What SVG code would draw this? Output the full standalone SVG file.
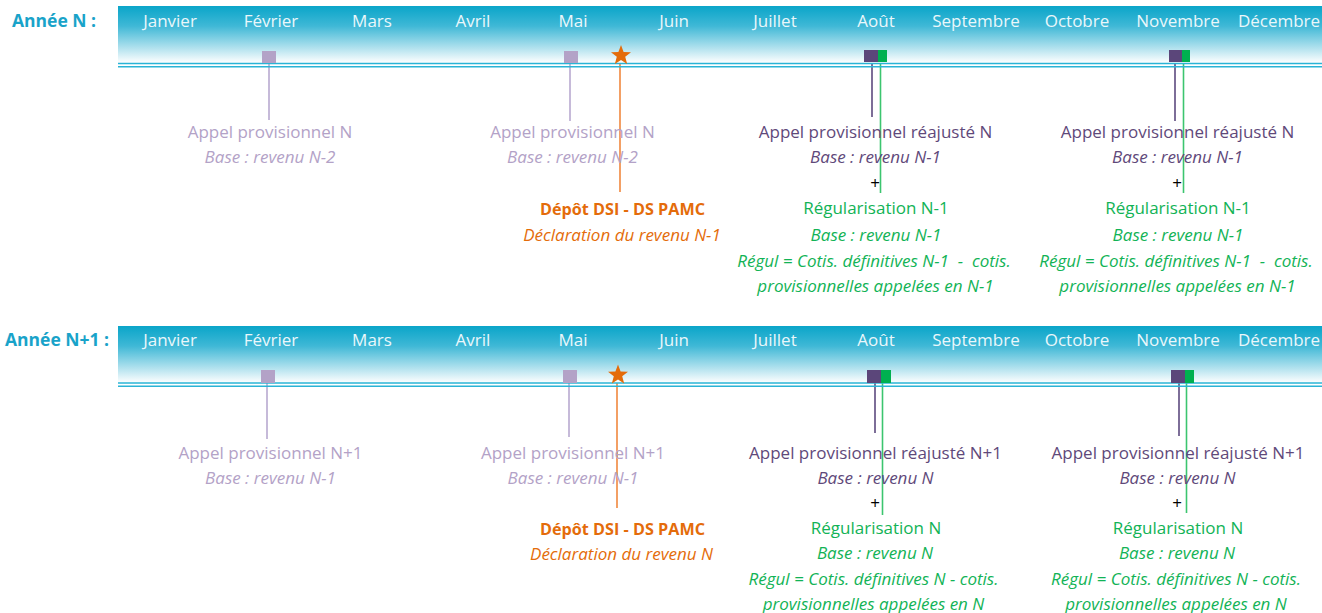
<svg xmlns="http://www.w3.org/2000/svg" width="1322" height="613" viewBox="0 0 1322 613">
<style>
text{font-family:"Open Sans","Liberation Sans",sans-serif;font-size:17px;text-anchor:middle}
.yr{font-weight:bold;font-size:17.5px;fill:#19a3c9;text-anchor:start}
.mo{fill:#eaf7fb}
.lp{fill:#b3a2c7}
.dp{fill:#5f497a}
.gr{fill:#12b356}
.or{fill:#e46c0a}
.it{font-style:italic}
.bd{font-weight:bold;font-size:16.2px}
.pl{fill:#000;font-size:17px}
.dl{stroke:#2ab4d6;stroke-width:1.6}
.c-lp{stroke:#c6bad9;stroke-width:2}
.c-dp{stroke:#7d6e98;stroke-width:2}
.c-gr{stroke:#3cc56f;stroke-width:1.6}
.c-or{stroke:#f0883e;stroke-width:1.6}
.sq-lp{fill:#b3a2c7}
.sq-dp{fill:#5b467a}
.sq-gr{fill:#00b050}
</style>
<defs>
<linearGradient id="bar" x1="0" y1="0" x2="0" y2="1">
<stop offset="0" stop-color="#0aa5c9"/>
<stop offset="0.35" stop-color="#3fb8d6"/>
<stop offset="0.75" stop-color="#b5e3ef"/>
<stop offset="1" stop-color="#ffffff"/>
</linearGradient>
<path id="star" d="M0,-10.5 L2.6,-3.6 L10,-3.25 L4.2,1.37 L6.17,8.5 L0,4.43 L-6.17,8.5 L-4.2,1.37 L-10,-3.25 L-2.6,-3.6 Z" fill="#e46c0a"/>
</defs>
<rect width="1322" height="613" fill="#fff"/>

<g id="connectors">
<line class="c-lp" x1="269" y1="63" x2="269" y2="120"/>
<line class="c-lp" x1="570" y1="63" x2="570" y2="121"/>
<line class="c-or" x1="620" y1="60" x2="620" y2="192"/>
<line class="c-dp" x1="872" y1="62" x2="872" y2="117"/>
<line class="c-gr" x1="880.5" y1="62" x2="880.5" y2="193"/>
<line class="c-dp" x1="1175" y1="62" x2="1175" y2="121"/>
<line class="c-gr" x1="1183.5" y1="62" x2="1183.5" y2="193"/>

<line class="c-lp" x1="267" y1="383" x2="267" y2="439"/>
<line class="c-lp" x1="569" y1="383" x2="569" y2="437"/>
<line class="c-or" x1="617" y1="379" x2="617" y2="508"/>
<line class="c-dp" x1="875" y1="383" x2="875" y2="433"/>
<line class="c-gr" x1="882.5" y1="383" x2="882.5" y2="515"/>
<line class="c-dp" x1="1179" y1="383" x2="1179" y2="436"/>
<line class="c-gr" x1="1186.5" y1="383" x2="1186.5" y2="513"/>
</g>

<g id="year-n">
<text class="yr" x="12" y="27">Année N :</text>
<rect x="118" y="6" width="1204" height="57" fill="url(#bar)"/>
<line class="dl" x1="118" y1="63.5" x2="1322" y2="63.5"/>
<line class="dl" x1="118" y1="66.8" x2="1322" y2="66.8"/>
<g class="mo">
<text x="170" y="27">Janvier</text>
<text x="271" y="27">Février</text>
<text x="372" y="27">Mars</text>
<text x="473" y="27">Avril</text>
<text x="573" y="27">Mai</text>
<text x="674" y="27">Juin</text>
<text x="775" y="27">Juillet</text>
<text x="876" y="27">Août</text>
<text x="976" y="27">Septembre</text>
<text x="1077" y="27">Octobre</text>
<text x="1178" y="27">Novembre</text>
<text x="1279" y="27">Décembre</text>
</g>
</g>

<g id="n-fev">
<rect class="sq-lp" x="262" y="51" width="14" height="12"/>
<text class="lp" x="270" y="138">Appel provisionnel N</text>
<text class="lp it" x="270" y="163">Base : revenu N-2</text>
</g>
<g id="n-mai">
<rect class="sq-lp" x="564" y="51" width="14" height="12"/>
<text class="lp" x="572.5" y="138">Appel provisionnel N</text>
<text class="lp it" x="572.5" y="163">Base : revenu N-2</text>
</g>
<g id="n-depot">
<use href="#star" x="621" y="55.5"/>
<text class="or bd" x="622.5" y="215">Dépôt DSI - DS PAMC</text>
<text class="or it" x="622" y="241">Déclaration du revenu N-1</text>
</g>
<g id="n-aout">
<rect class="sq-dp" x="864" y="50" width="14" height="12"/>
<rect class="sq-gr" x="878" y="50" width="9" height="12"/>
<text class="dp" x="875.5" y="138">Appel provisionnel réajusté N</text>
<text class="dp it" x="875.5" y="163">Base : revenu N-1</text>
<text class="pl" x="875" y="189">+</text>
<text class="gr" x="876" y="214">Régularisation N-1</text>
<text class="gr it" x="876" y="241">Base : revenu N-1</text>
<text class="gr it" x="874" y="267" xml:space="preserve">Régul = Cotis. définitives N-1  -  cotis.</text>
<text class="gr it" x="875.5" y="292">provisionnelles appelées en N-1</text>
</g>
<g id="n-nov">
<rect class="sq-dp" x="1169" y="50" width="13" height="12"/>
<rect class="sq-gr" x="1182" y="50" width="8" height="12"/>
<text class="dp" x="1177.5" y="138">Appel provisionnel réajusté N</text>
<text class="dp it" x="1177.5" y="163">Base : revenu N-1</text>
<text class="pl" x="1177" y="189">+</text>
<text class="gr" x="1178" y="214">Régularisation N-1</text>
<text class="gr it" x="1178" y="241">Base : revenu N-1</text>
<text class="gr it" x="1176" y="267" xml:space="preserve">Régul = Cotis. définitives N-1  -  cotis.</text>
<text class="gr it" x="1177.5" y="292">provisionnelles appelées en N-1</text>
</g>

<g id="year-n1">
<text class="yr" x="5" y="346">Année N+1 :</text>
<rect x="118" y="326" width="1204" height="57" fill="url(#bar)"/>
<line class="dl" x1="118" y1="383" x2="1322" y2="383"/>
<line class="dl" x1="118" y1="386.3" x2="1322" y2="386.3"/>
<g class="mo">
<text x="170" y="346">Janvier</text>
<text x="271" y="346">Février</text>
<text x="372" y="346">Mars</text>
<text x="473" y="346">Avril</text>
<text x="573" y="346">Mai</text>
<text x="674" y="346">Juin</text>
<text x="775" y="346">Juillet</text>
<text x="876" y="346">Août</text>
<text x="976" y="346">Septembre</text>
<text x="1077" y="346">Octobre</text>
<text x="1178" y="346">Novembre</text>
<text x="1279" y="346">Décembre</text>
</g>
</g>

<g id="n1-fev">
<rect class="sq-lp" x="261" y="370" width="14" height="13"/>
<text class="lp" x="270.5" y="459">Appel provisionnel N+1</text>
<text class="lp it" x="270.5" y="484">Base : revenu N-1</text>
</g>
<g id="n1-mai">
<rect class="sq-lp" x="563" y="370" width="14" height="13"/>
<text class="lp" x="573" y="459">Appel provisionnel N+1</text>
<text class="lp it" x="573" y="484">Base : revenu N-1</text>
</g>
<g id="n1-depot">
<use href="#star" x="618" y="375"/>
<text class="or bd" x="622.5" y="535">Dépôt DSI - DS PAMC</text>
<text class="or it" x="621.5" y="560">Déclaration du revenu N</text>
</g>
<g id="n1-aout">
<rect class="sq-dp" x="867" y="370" width="14" height="13"/>
<rect class="sq-gr" x="881" y="370" width="10" height="13"/>
<text class="dp" x="875.5" y="459">Appel provisionnel réajusté N+1</text>
<text class="dp it" x="875.5" y="484">Base : revenu N</text>
<text class="pl" x="875" y="509">+</text>
<text class="gr" x="876" y="534">Régularisation N</text>
<text class="gr it" x="875" y="559">Base : revenu N</text>
<text class="gr it" x="873.5" y="585">Régul = Cotis. définitives N - cotis.</text>
<text class="gr it" x="873.5" y="610">provisionnelles appelées en N</text>
</g>
<g id="n1-nov">
<rect class="sq-dp" x="1171" y="370" width="14" height="13"/>
<rect class="sq-gr" x="1185" y="370" width="9" height="13"/>
<text class="dp" x="1178" y="459">Appel provisionnel réajusté N+1</text>
<text class="dp it" x="1177.5" y="484">Base : revenu N</text>
<text class="pl" x="1177" y="509">+</text>
<text class="gr" x="1178" y="534">Régularisation N</text>
<text class="gr it" x="1177" y="559">Base : revenu N</text>
<text class="gr it" x="1176" y="585">Régul = Cotis. définitives N - cotis.</text>
<text class="gr it" x="1176" y="610">provisionnelles appelées en N</text>
</g>
</svg>
